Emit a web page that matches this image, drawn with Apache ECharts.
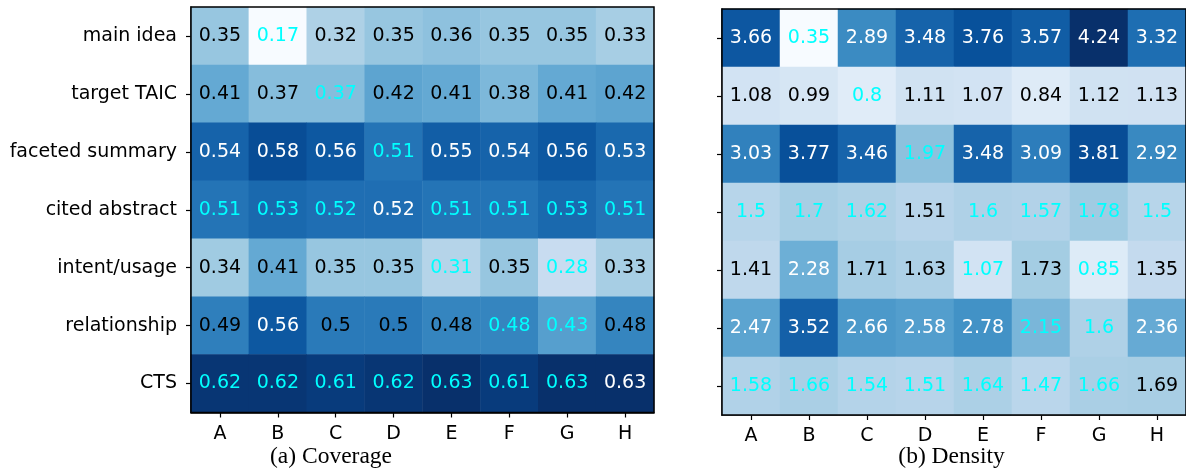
<!DOCTYPE html>
<html>
<head>
<meta charset="utf-8">
<script src="https://cdn.jsdelivr.net/npm/echarts@6/dist/echarts.min.js"></script>
<style>
html,body{margin:0;padding:0;background:#fff;}
#c{width:1186px;height:472px;}
</style>
</head>
<body>
<div id="c"></div>
<script>
const columns = ['A','B','C','D','E','F','G','H'];
const rows = ['main idea','target TAIC','faceted summary','cited abstract','intent/usage','relationship','CTS'];

const coverage = [
  [0.35,0.17,0.32,0.35,0.36,0.35,0.35,0.33],
  [0.41,0.37,0.37,0.42,0.41,0.38,0.41,0.42],
  [0.54,0.58,0.56,0.51,0.55,0.54,0.56,0.53],
  [0.51,0.53,0.52,0.52,0.51,0.51,0.53,0.51],
  [0.34,0.41,0.35,0.35,0.31,0.35,0.28,0.33],
  [0.49,0.56,0.5,0.5,0.48,0.48,0.43,0.48],
  [0.62,0.62,0.61,0.62,0.63,0.61,0.63,0.63]
];

const density = [
  [3.66,0.35,2.89,3.48,3.76,3.57,4.24,3.32],
  [1.08,0.99,0.8,1.11,1.07,0.84,1.12,1.13],
  [3.03,3.77,3.46,1.97,3.48,3.09,3.81,2.92],
  [1.5,1.7,1.62,1.51,1.6,1.57,1.78,1.5],
  [1.41,2.28,1.71,1.63,1.07,1.73,0.85,1.35],
  [2.47,3.52,2.66,2.58,2.78,2.15,1.6,2.36],
  [1.58,1.66,1.54,1.51,1.64,1.47,1.66,1.69]
];

// cells whose value label is highlighted (cyan) in the original
const highlighted = [
  [0,1,0,0,0,0,0,0],
  [0,0,1,0,0,0,0,0],
  [0,0,0,1,0,0,0,0],
  [1,1,1,0,1,1,1,1],
  [0,0,0,0,1,0,1,0],
  [0,0,0,0,0,1,1,0],
  [1,1,1,1,1,1,1,0]
];

const subtitles = ['(a) Coverage','(b) Density'];

const blues = ['#f7fbff','#deebf7','#c6dbef','#9ecae1','#6baed6','#4292c6','#2171b5','#08519c','#08306b'];

function buildData(mat, darkThreshold){
  const out = [];
  mat.forEach((row, r) => row.forEach((v, c) => {
    let col = v > darkThreshold ? '#ffffff' : '#000000';
    if (highlighted[r][c]) col = '#00ffff';
    out.push({value:[c, r, v], label:{color: col}});
  }));
  return out;
}
function flatMin(m){return Math.min(...m.flat());}
function flatMax(m){return Math.max(...m.flat());}

const FONT = 'DejaVu Sans';
const FS = 19;
const grids = [
  {left:191, top:7, width:463, height:405.5},
  {left:722, top:9, width:466, height:406}
];

function xAx(i){
  return {
    type:'category', data:columns, gridIndex:i, position:'bottom',
    axisLine:{show:true, lineStyle:{color:'#000', width:1.5}},
    axisTick:{show:true, alignWithLabel:true, length:5, lineStyle:{color:'#000', width:1.2}},
    axisLabel:{show:true, color:'#000', fontFamily:FONT, fontSize:FS, margin:12},
    splitLine:{show:false}, splitArea:{show:false}
  };
}
function yAx(i, showLabels){
  return {
    type:'category', data:rows, gridIndex:i, inverse:true,
    axisLine:{show:true, lineStyle:{color:'#000', width:1.5}},
    axisTick:{show:true, alignWithLabel:true, length:5, lineStyle:{color:'#000', width:1.2}},
    axisLabel:{show:showLabels, color:'#000', fontFamily:FONT, fontSize:FS, margin:14},
    splitLine:{show:false}, splitArea:{show:false}
  };
}

const chart = echarts.init(document.getElementById('c'), null, {renderer:'canvas'});
chart.setOption({
  animation:false,
  backgroundColor:'#fff',
  grid: grids.map(g => Object.assign({show:true, z:10, borderColor:'#000', borderWidth:1.5, backgroundColor:'transparent'}, g)),
  xAxis:[xAx(0), xAx(1)],
  yAxis:[yAx(0,true), yAx(1,false)],
  visualMap:[
    {type:'continuous', show:false, seriesIndex:0, dimension:2, min:flatMin(coverage), max:flatMax(coverage), inRange:{color:blues}},
    {type:'continuous', show:false, seriesIndex:1, dimension:2, min:flatMin(density), max:flatMax(density), inRange:{color:blues}}
  ],
  series:[
    {type:'heatmap', xAxisIndex:0, yAxisIndex:0, data:buildData(coverage, 0.51),
     label:{show:true, fontFamily:FONT, fontSize:FS, formatter:p => String(p.value[2])},
     itemStyle:{borderWidth:0}, emphasis:{disabled:true}},
    {type:'heatmap', xAxisIndex:1, yAxisIndex:1, data:buildData(density, 2.0),
     label:{show:true, fontFamily:FONT, fontSize:FS, formatter:p => String(p.value[2])},
     itemStyle:{borderWidth:0}, emphasis:{disabled:true}}
  ],
  graphic:[
    {type:'text', x:331, y:457, style:{text:subtitles[0], font:'23.5px "Liberation Serif"', fill:'#000', align:'center', verticalAlign:'middle'}},
    {type:'text', x:951.5, y:457, style:{text:subtitles[1], font:'23.5px "Liberation Serif"', fill:'#000', align:'center', verticalAlign:'middle'}}
  ]
});
</script>
</body>
</html>
